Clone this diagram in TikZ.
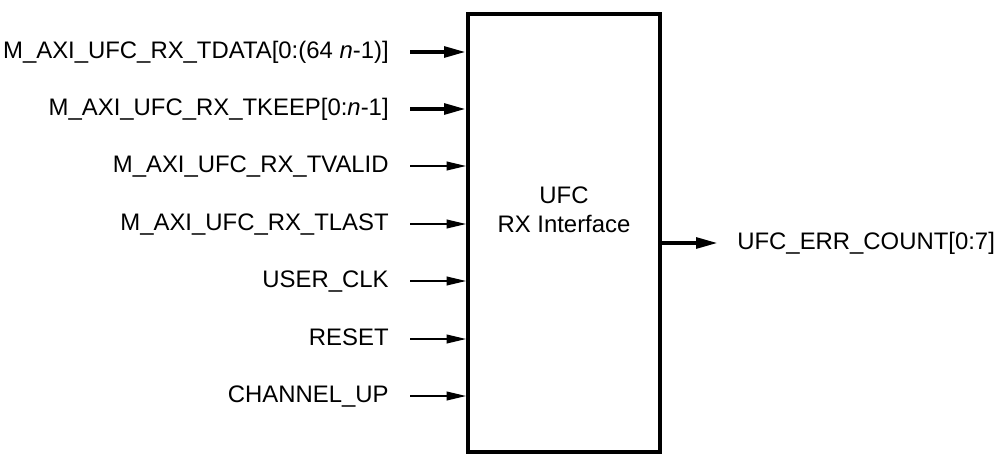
\documentclass[tikz,border=0pt]{standalone}
\usepackage{fontspec}
\setmainfont{Liberation Sans}
\usetikzlibrary{arrows.meta}

\begin{document}
\begin{tikzpicture}[x=0.02cm, y=-0.02cm,
  font=\fontsize{13.6}{16.4}\selectfont,
  block/.style={draw=black, line width=2.3pt, minimum width=3.84cm,
  minimum height=8.76cm, inner sep=0pt},
  pinlbl/.style={anchor=base east, inner sep=0pt},
  outlbl/.style={anchor=base west, inner sep=0pt},
  sig/.style={-{Triangle[length=11pt, width=5pt]}, line width=0.75pt},
  bus/.style={-{Triangle[length=12.5pt, width=6pt]}, line width=2.3pt}
]
\useasboundingbox (0,0) rectangle (999,453);
\clip (0,0) rectangle (999,453);

\node[block] (ufc) at (564,233) {};
\node[align=center] (ufctxt) at (564,210) {UFC\\RX Interface};

% bus inputs
\coordinate (p1) at (410,52);
\coordinate (p2) at (410,109);
\node[pinlbl] (l1) at (389,58.8) {M\_AXI\_UFC\_RX\_TDATA[0:(64~\textit{n}-1)]};
\node[pinlbl] (l2) at (389,115.8) {M\_AXI\_UFC\_RX\_TKEEP[0:\textit{n}-1]};
\draw[bus] (p1) -- (p1 -| ufc.west);
\draw[bus] (p2) -- (p2 -| ufc.west);

% single inputs
\foreach \i/\y/\txt in {3/166/{M\_AXI\_UFC\_RX\_TVALID}, 4/224/{M\_AXI\_UFC\_RX\_TLAST},
  5/281/{USER\_CLK}, 6/339/{RESET}, 7/396/{CHANNEL\_UP}}{
  \coordinate (p\i) at (410,\y);
  \node[pinlbl] (l\i) at (389,\y+6.8) {\txt};
  \draw[sig] (p\i) -- (p\i -| ufc.west);
}

% output
\coordinate (otip) at (718,243);
\draw[bus] (ufc.east |- otip) -- (otip);
\node[outlbl] (olbl) at (737,249.8) {UFC\_ERR\_COUNT[0:7]};
\end{tikzpicture}
\end{document}
